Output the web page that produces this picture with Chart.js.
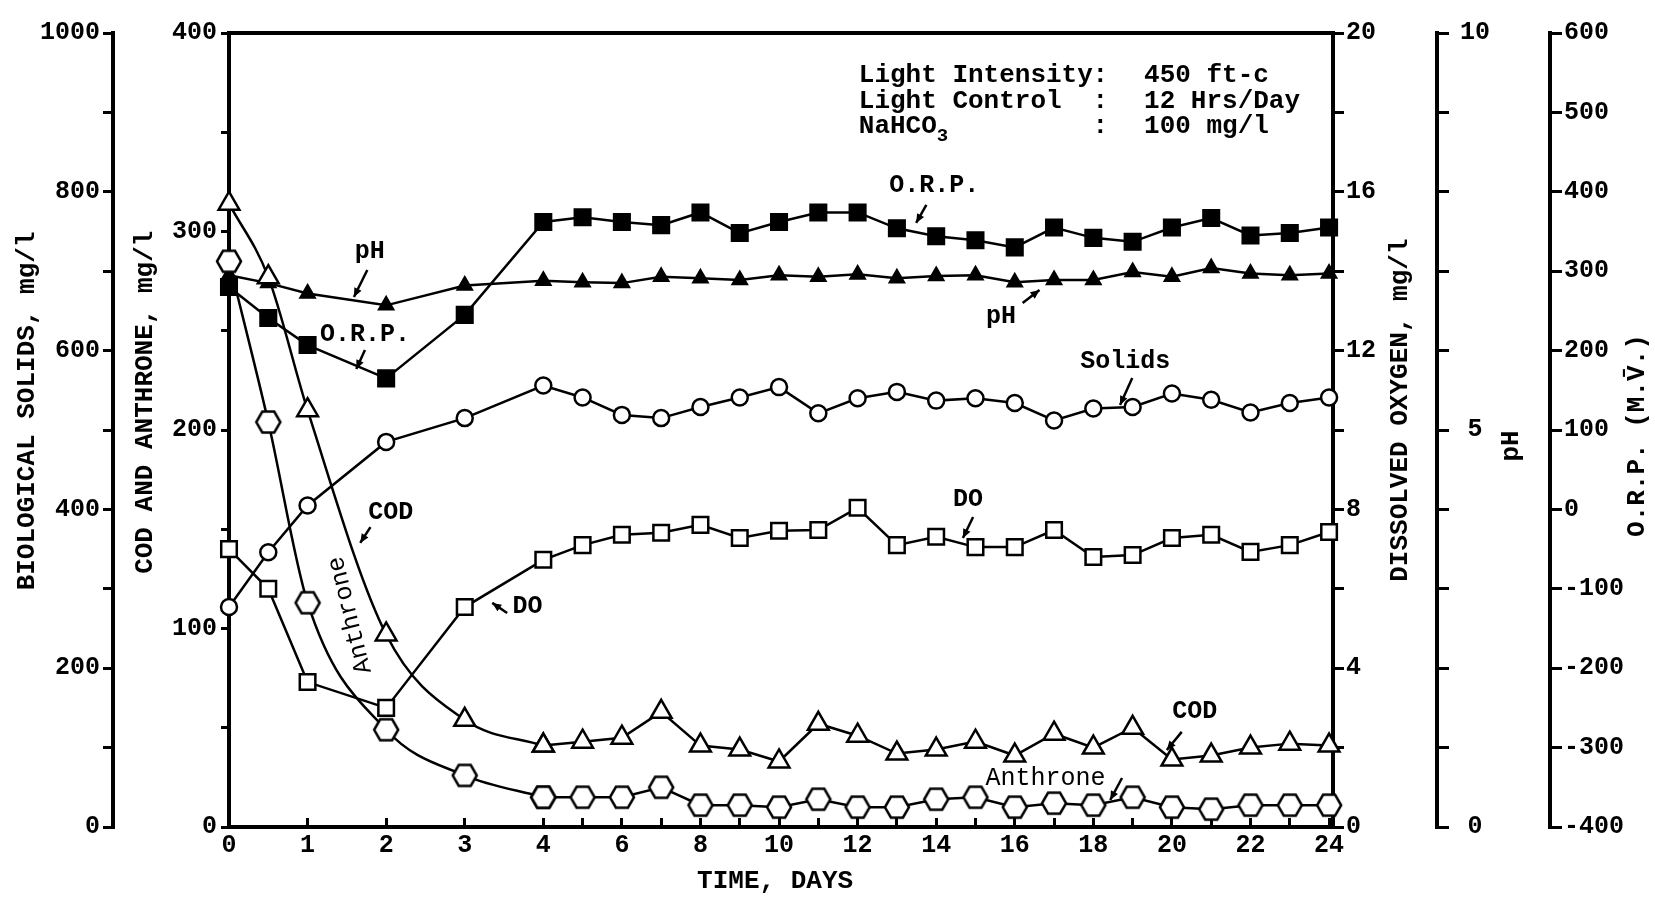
<!DOCTYPE html>
<html lang="en">
  <head>
    <meta charset="UTF-8" />
    <title>Solids, COD, Anthrone, DO, pH and O.R.P. vs time</title>
    <script src="https://cdn.jsdelivr.net/npm/chart.js"></script>
    <style>
      html,
      body {
        margin: 0;
        padding: 0;
        background: #fff;
      }
      .chart-box {
        position: relative;
        width: 1655px;
        height: 897px;
      }
    </style>
  </head>
  <body>
    <div class="chart-box"><canvas id="mainChart"></canvas></div>

    <script>
      // sampling days (0-4 drawn at double width, as on the original sheet)
      const days = [0, 0.5, 1, 2, 3, 4, 5, 6, 7, 8, 9, 10, 11, 12, 13, 14, 15, 16, 17, 18, 19, 20, 21, 22, 23, 24];

      // biological solids, mg/l
      const solids = [277, 346, 405, 485, 515, 556, 541, 519, 515, 529, 541, 554, 521, 540, 548, 537, 540, 534, 512, 527, 529, 546, 538, 522, 534, 541];
      // COD and anthrone, mg/l
      const cod = [314, 277, 210, 97, 54, 41, 43, 45, 58, 41, 39, 33, 52, 46, 37, 39, 43, 36, 47, 40, 50, 34, 36, 40, 42, 41];
      const anthrone = [285, 204, 113, 49, 26, 15, 15, 15, 20, 11, 11, 10, 14, 10, 10, 14, 15, 10, 12, 11, 15, 10, 9, 11, 11, 11];
      // dissolved oxygen, mg/l
      const dissolvedOxygen = [7.0, 6.0, 3.65, 3.0, 5.54, 6.73, 7.1, 7.36, 7.41, 7.61, 7.28, 7.46, 7.48, 8.04, 7.1, 7.31, 7.05, 7.05, 7.48, 6.8, 6.85, 7.28, 7.36, 6.93, 7.1, 7.43];
      // pH
      const ph = [6.95, 6.85, 6.72, 6.57, 6.82, 6.88, 6.86, 6.85, 6.93, 6.91, 6.89, 6.95, 6.93, 6.96, 6.91, 6.94, 6.95, 6.86, 6.89, 6.89, 6.99, 6.93, 7.04, 6.97, 6.95, 6.97];
      // O.R.P., mV
      const orp = [280, 241, 207, 165, 245, 362, 368, 362, 358, 374, 348, 362, 374, 374, 354, 344, 339, 330, 355, 342, 337, 355, 367, 345, 348, 355];

      // x tick marks (days); labels only on 0-4 and even days
      const xTickDays = [0, 1, 2, 3, 4, 5, 6, 7, 8, 9, 10, 11, 12, 13, 14, 15, 16, 17, 18, 19, 20, 21, 22, 23, 24];

      const FONT = "'Liberation Mono', 'DejaVu Sans Mono', monospace";
      Chart.defaults.font.family = FONT;
      Chart.defaults.color = "#000";

      // first four days take twice the width of the later ones
      const dayToPos = (d) => (d <= 4 ? d : 4 + (d - 4) / 2);
      const posToDay = (t) => (t <= 4 ? t : 4 + (t - 4) * 2);

      const series = (vals) => days.map((d, i) => ({ x: dayToPos(d), y: vals[i] }));
      const early = (vals) => series(vals).filter((p) => p.x <= 4);
      const late = (vals) => series(vals).filter((p) => p.x >= 4);

      // open hexagon marker for anthrone
      const hexMarker = (() => {
        const c = document.createElement("canvas");
        c.width = 30;
        c.height = 28;
        const g = c.getContext("2d");
        const r = 12;
        g.beginPath();
        for (let k = 0; k < 6; k++) {
          const a = (Math.PI / 3) * k;
          const hx = 15 + r * Math.cos(a);
          const hy = 14 + r * Math.sin(a);
          if (k === 0) g.moveTo(hx, hy);
          else g.lineTo(hx, hy);
        }
        g.closePath();
        g.fillStyle = "#fff";
        g.fill();
        g.lineWidth = 2.5;
        g.strokeStyle = "#000";
        g.stroke();
        return c;
      })();

      const lineStyle = {
        borderColor: "#000",
        borderWidth: 2.5,
        pointBorderColor: "#000",
        pointBorderWidth: 2.5,
        tension: 0,
        clip: false,
      };
      const curve = { tension: 0.4, cubicInterpolationMode: "monotone" };

      const tickFont = { size: 25, weight: "bold" };

      const yAxis = (position, weight, min, max, step, width, tickLen, pad, labelEvery, extra) => ({
        position,
        weight,
        min,
        max,
        ticks: {
          stepSize: step,
          autoSkip: false,
          font: tickFont,
          color: "#000",
          padding: pad,
          callback: (v) => (labelEvery(v) ? String(v) : ""),
          ...(extra || {}),
        },
        grid: { drawOnChartArea: false, drawTicks: true, tickLength: tickLen, color: "#000", lineWidth: 3 },
        border: { display: true, color: "#000", width: 4 },
        afterFit: (s) => {
          s.width = width;
        },
      });

      const axisTitles = [
        { axis: "ySol", text: "BIOLOGICAL SOLIDS, mg/l", dx: 27, at: 524 },
        { axis: "yCod", text: "COD AND ANTHRONE, mg/l", dx: 32, at: 214 },
        { axis: "yDo", text: "DISSOLVED OXYGEN, mg/l", dx: 67, at: 10.5 },
        { axis: "yPh", text: "pH", dx: 74, at: 4.8 },
        { axis: "yOrp", text: "O.R.P. (M.V\u0304.)", dx: 87, at: 93 },
      ];

      // in-plot labels, placed in (day, COD value) coordinates
      const notes = [
        { text: "pH", day: 1.79, v: 289.7, arrow: [1.76, 280.6, 1.59, 267] },
        { text: "O.R.P.", day: 1.73, v: 247.9, arrow: [1.73, 240.3, 1.62, 230.7] },
        { text: "O.R.P.", day: 13.95, v: 322.9, arrow: [13.75, 313.4, 13.49, 304.3] },
        { text: "pH", day: 15.65, v: 256.9, arrow: [16.2, 264, 16.63, 270.5] },
        { text: "Solids", day: 18.81, v: 234.3, arrow: [18.99, 226.2, 18.68, 212.6] },
        { text: "DO", day: 14.81, v: 164.7, arrow: [14.94, 156.2, 14.68, 145.6] },
        { text: "DO", day: 3.8, v: 110.8, arrow: [3.54, 107.8, 3.35, 112.9] },
        { text: "COD", day: 2.06, v: 158.2, arrow: [1.8, 151.1, 1.67, 143.1] },
        { text: "Anthrone", day: 1.54, v: 106.8, rotate: -104, weight: "normal" },
        { text: "COD", day: 20.58, v: 57.9, arrow: [20.25, 47.9, 19.87, 38.8] },
        { text: "Anthrone", day: 16.78, v: 24.7, weight: "normal", arrow: [18.73, 24.7, 18.43, 13.6] },
      ];

      const infoRows = [
        { label: "Light Intensity", sub: "", value: "450 ft-c", v: 378.4 },
        { label: "Light Control", sub: "", value: "12 Hrs/Day", v: 365.3 },
        { label: "NaHCO", sub: "3", value: "100 mg/l", v: 352.7 },
      ];

      const drawArrow = (ctx, x1, y1, x2, y2) => {
        ctx.lineWidth = 2.5;
        ctx.beginPath();
        ctx.moveTo(x1, y1);
        ctx.lineTo(x2, y2);
        ctx.stroke();
        const a = Math.atan2(y2 - y1, x2 - x1);
        ctx.beginPath();
        ctx.moveTo(x2, y2);
        ctx.lineTo(x2 - 9 * Math.cos(a) + 4 * Math.sin(a), y2 - 9 * Math.sin(a) - 4 * Math.cos(a));
        ctx.lineTo(x2 - 9 * Math.cos(a) - 4 * Math.sin(a), y2 - 9 * Math.sin(a) + 4 * Math.cos(a));
        ctx.closePath();
        ctx.fill();
      };

      const decor = {
        id: "decor",
        afterDraw(chart) {
          const { ctx, chartArea, scales } = chart;
          const px = (d) => scales.x.getPixelForValue(dayToPos(d));
          const py = (v) => scales.yCod.getPixelForValue(v);
          ctx.save();
          ctx.fillStyle = "#000";
          ctx.strokeStyle = "#000";

          // top edge of the frame
          ctx.lineWidth = 4;
          ctx.beginPath();
          ctx.moveTo(chartArea.left - 2, chartArea.top);
          ctx.lineTo(chartArea.right + 2, chartArea.top);
          ctx.stroke();

          // axis titles, all reading upward
          ctx.font = "bold 26px " + FONT;
          ctx.textAlign = "center";
          ctx.textBaseline = "middle";
          axisTitles.forEach((t) => {
            const s = scales[t.axis];
            ctx.save();
            ctx.translate(s.left + t.dx, s.getPixelForValue(t.at));
            ctx.rotate(-Math.PI / 2);
            ctx.fillText(t.text, 0, 0);
            ctx.restore();
          });
          ctx.fillText("TIME, DAYS", px(9.9), chartArea.bottom + 54);

          // curve labels
          notes.forEach((n) => {
            ctx.font = (n.weight || "bold") + " 25px " + FONT;
            ctx.save();
            ctx.translate(px(n.day), py(n.v));
            if (n.rotate) ctx.rotate((n.rotate * Math.PI) / 180);
            ctx.fillText(n.text, 0, 0);
            ctx.restore();
            if (n.arrow) {
              const [d1, v1, d2, v2] = n.arrow;
              drawArrow(ctx, px(d1), py(v1), px(d2), py(v2));
            }
          });

          // conditions block
          ctx.font = "bold 26px " + FONT;
          infoRows.forEach((r) => {
            const y = py(r.v);
            ctx.textAlign = "left";
            ctx.fillText(r.label, px(12.03), y);
            if (r.sub) {
              const w = ctx.measureText(r.label).width;
              ctx.font = "bold 19px " + FONT;
              ctx.fillText(r.sub, px(12.03) + w, y + 9);
              ctx.font = "bold 26px " + FONT;
            }
            ctx.textAlign = "center";
            ctx.fillText(":", px(18.18), y);
            ctx.textAlign = "left";
            ctx.fillText(r.value, px(19.29), y);
          });
          ctx.restore();
        },
      };

      new Chart(document.getElementById("mainChart"), {
        type: "line",
        data: {
          datasets: [
            { label: "Solids", data: series(solids), yAxisID: "ySol", ...lineStyle, pointStyle: "circle", pointRadius: 8, pointBackgroundColor: "#fff" },
            { label: "COD", data: early(cod), yAxisID: "yCod", ...lineStyle, ...curve, pointStyle: "triangle", pointRadius: 12, pointBackgroundColor: "#fff" },
            { label: "COD", data: late(cod), yAxisID: "yCod", ...lineStyle, pointStyle: "triangle", pointRadius: 12, pointBackgroundColor: "#fff" },
            { label: "Anthrone", data: early(anthrone), yAxisID: "yCod", ...lineStyle, ...curve, pointStyle: hexMarker },
            { label: "Anthrone", data: late(anthrone), yAxisID: "yCod", ...lineStyle, pointStyle: hexMarker },
            { label: "DO", data: series(dissolvedOxygen), yAxisID: "yDo", ...lineStyle, pointStyle: "rect", pointRadius: 11, pointBackgroundColor: "#fff" },
            { label: "pH", data: series(ph), yAxisID: "yPh", ...lineStyle, pointStyle: "triangle", pointRadius: 8, pointBackgroundColor: "#000" },
            { label: "O.R.P.", data: series(orp), yAxisID: "yOrp", ...lineStyle, pointStyle: "rect", pointRadius: 11, pointBackgroundColor: "#000" },
          ],
        },
        options: {
          responsive: true,
          maintainAspectRatio: false,
          animation: false,
          events: [],
          layout: { padding: { top: 33, left: 0, right: 0, bottom: 0 } },
          plugins: { legend: { display: false }, tooltip: { enabled: false } },
          scales: {
            x: {
              type: "linear",
              min: 0,
              max: 14.05,
              afterBuildTicks: (s) => {
                s.ticks = xTickDays.map((d) => ({ value: dayToPos(d) }));
              },
              ticks: {
                autoSkip: false,
                maxRotation: 0,
                font: tickFont,
                color: "#000",
                padding: 13,
                callback: (t) => {
                  const d = Math.round(posToDay(t));
                  return d <= 4 || d % 2 === 0 ? String(d) : "";
                },
              },
              grid: { drawOnChartArea: false, drawTicks: true, tickLength: -9, color: "#000", lineWidth: 3 },
              border: { display: true, color: "#000", width: 4 },
              afterFit: (s) => {
                s.height = 70;
              },
            },
            yCod: yAxis("left", 0, 0, 400, 50, 116, 8, 4, (v) => v % 100 === 0),
            ySol: yAxis("left", 1, 0, 1000, 100, 113, 10, 3, (v) => v % 200 === 0),
            yDo: yAxis("right", 0, 0, 20, 2, 104, 11, 2, (v) => v % 4 === 0),
            yPh: yAxis("right", 1, 0, 10, 1, 113, 12, 11, (v) => v % 5 === 0, { crossAlign: "center" }),
            yOrp: yAxis("right", 2, -400, 600, 100, 105, 12, 2, () => true),
          },
        },
        plugins: [decor],
      });
    </script>
  </body>
</html>
